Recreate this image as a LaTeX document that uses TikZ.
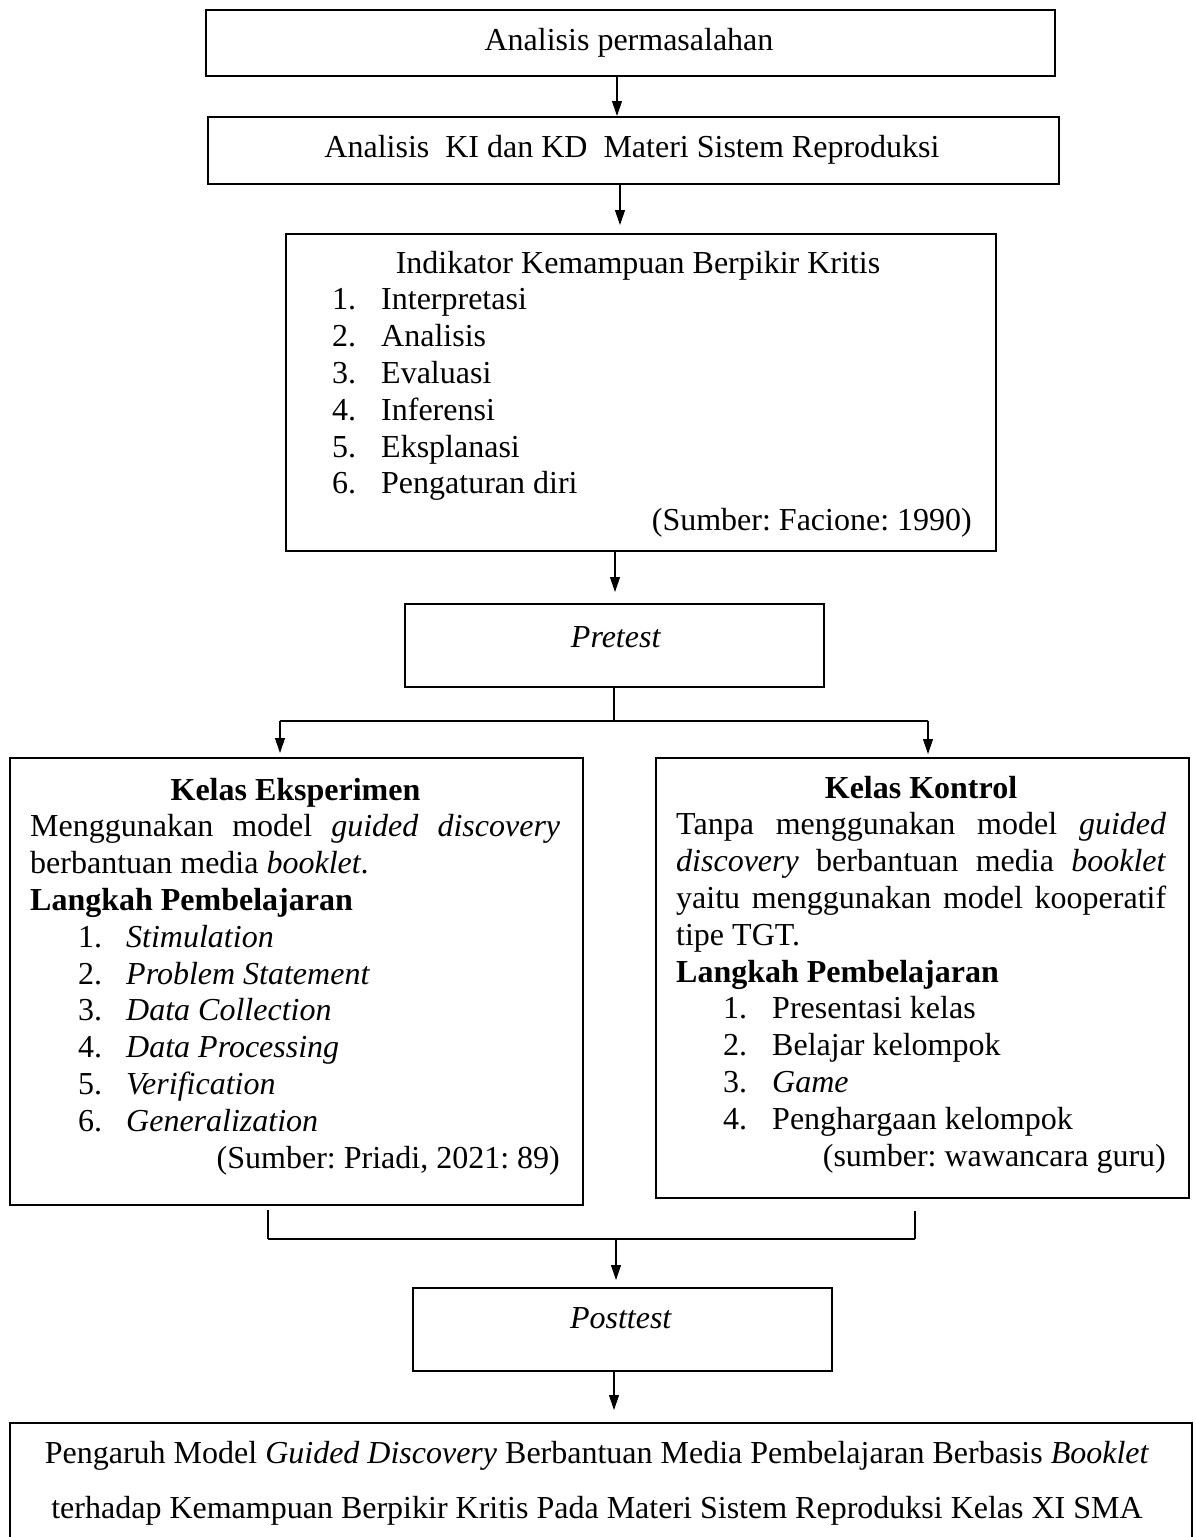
\documentclass[tikz,border=0pt]{standalone}
\usepackage{fontspec}
\setmainfont{Liberation Serif}
\usetikzlibrary{arrows.meta}
\newcommand{\jline}[2]{\makebox[#1][s]{#2}}
\begin{document}
\frenchspacing
\begin{tikzpicture}[x=1pt,y=-1pt,
  box/.style={draw, line width=2pt, inner sep=0pt, anchor=north west},
  conn/.style={line width=1.1pt},
  arr/.style={conn, -{Triangle[length=15pt,width=10pt]}},
  txt/.style={inner sep=0pt, font=\fontsize{32}{36.8}\selectfont\frenchspacing},
]
\useasboundingbox (0,0) rectangle (1195,1537);

% boxes
\node[box, minimum width=849pt, minimum height=66pt] (b1) at (205,9) {};
\node[box, minimum width=851pt, minimum height=67pt] (b2) at (207,116) {};
\node[box, minimum width=710pt, minimum height=317pt] (b3) at (285,233) {};
\node[box, minimum width=419pt, minimum height=83pt] (pre) at (404,603) {};
\node[box, minimum width=573pt, minimum height=447pt] (eks) at (9,757) {};
\node[box, minimum width=533pt, minimum height=440pt] (kon) at (655,757) {};
\node[box, minimum width=419pt, minimum height=83pt] (post) at (412,1287) {};
\node[box, minimum width=1182pt, minimum height=150pt] (fin) at (9,1422) {};

% texts
\node[txt, anchor=base] (t1) at (629,50) {Analisis permasalahan};
\node[txt, anchor=base] (t2) at (632,157) {Analisis\ \ KI dan KD\ \ Materi Sistem Reproduksi};
\node[txt, anchor=base] (t3) at (638,273) {Indikator Kemampuan Berpikir Kritis};
\foreach \t [count=\k] in {Interpretasi,Analisis,Evaluasi,Inferensi,Eksplanasi,Pengaturan diri}{
  \node[txt, anchor=base west] (b3n\k) at (332,273+36.8*\k) {\k.};
  \node[txt, anchor=base west] (b3t\k) at (381,273+36.8*\k) {\t};
}
\node[txt, anchor=base east] (t3s) at (972,530.6) {(Sumber: Facione: 1990)};

\node[txt, anchor=base] (tpre) at (616,647) {\textit{Pretest}};

% eksperimen
\node[txt, anchor=base] (e1) at (295.5,800) {\textbf{Kelas Eksperimen}};
\node[txt, anchor=base west] (e2) at (30,836.8) {\jline{530pt}{Menggunakan model \textit{guided} \textit{discovery}}};
\node[txt, anchor=base west] (e3) at (30,873.6) {berbantuan media \textit{booklet}.};
\node[txt, anchor=base west] (e4) at (30,910.4) {\textbf{Langkah Pembelajaran}};
\foreach \t [count=\k] in {Stimulation,Problem Statement,Data Collection,Data Processing,Verification,Generalization}{
  \node[txt, anchor=base west] (en\k) at (78,910.4+36.8*\k) {\k.};
  \node[txt, anchor=base west] (et\k) at (126,910.4+36.8*\k) {\textit{\t}};
}
\node[txt, anchor=base east] (es) at (560,1168) {(Sumber: Priadi, 2021: 89)};

% kontrol
\node[txt, anchor=base] (k1) at (921,798) {\textbf{Kelas Kontrol}};
\node[txt, anchor=base west] (k2) at (676,834.8) {\jline{490pt}{Tanpa menggunakan model \textit{guided}}};
\node[txt, anchor=base west] (k3) at (676,871.6) {\jline{490pt}{\textit{discovery} berbantuan media \textit{booklet}}};
\node[txt, anchor=base west] (k4) at (676,908.4) {\jline{490pt}{yaitu menggunakan model kooperatif}};
\node[txt, anchor=base west] (k5) at (676,945.2) {tipe TGT.};
\node[txt, anchor=base west] (k6) at (676,982) {\textbf{Langkah Pembelajaran}};
\foreach \t [count=\k] in {Presentasi kelas,Belajar kelompok,\textit{Game},Penghargaan kelompok}{
  \node[txt, anchor=base west] (kn\k) at (723,982+36.8*\k) {\k.};
  \node[txt, anchor=base west] (kt\k) at (772,982+36.8*\k) {\t};
}
\node[txt, anchor=base east] (ks) at (1166,1166) {(sumber: wawancara guru)};

\node[txt, anchor=base] (tpost) at (621,1328) {\textit{Posttest}};

\node[txt, anchor=base] (f1) at (597,1463) {Pengaruh Model \textit{Guided Discovery} Berbantuan Media Pembelajaran Berbasis \textit{Booklet}};
\node[txt, anchor=base] (f2) at (597,1518) {terhadap Kemampuan Berpikir Kritis Pada Materi Sistem Reproduksi Kelas XI SMA};

% connectors
\coordinate (xa) at (617,0);
\coordinate (xb) at (620,0);
\coordinate (xc) at (615,0);
\coordinate (split) at (614,721);
\coordinate (L) at (280,721);
\coordinate (R) at (928,721);
\coordinate (ml) at (268,1239);
\coordinate (mr) at (915,1239);
\coordinate (mid) at (616,1239);
\coordinate (xd) at (614,0);

\draw[arr] (b1.south -| xa) -- (b2.north -| xa);
\draw[arr, shorten >=8pt] (b2.south -| xb) -- (b3.north -| xb);
\draw[arr, shorten >=11pt] (b3.south -| xc) -- (pre.north -| xc);
\draw[conn] (pre.south -| split) -- (split);
\draw[conn] (L) -- (R);
\draw[arr, shorten >=4pt] (L) -- (eks.north -| L);
\draw[arr, shorten >=3pt] (R) -- (kon.north -| R);
\draw[conn, shorten <=4pt] (eks.south -| ml) -- (ml);
\draw[conn, shorten <=12pt] (kon.south -| mr) -- (mr);
\draw[conn] (ml) -- (mr);
\draw[arr, shorten >=7pt] (mid) -- (post.north -| mid);
\draw[arr, shorten >=12pt] (post.south -| xd) -- (fin.north -| xd);
\end{tikzpicture}
\end{document}
